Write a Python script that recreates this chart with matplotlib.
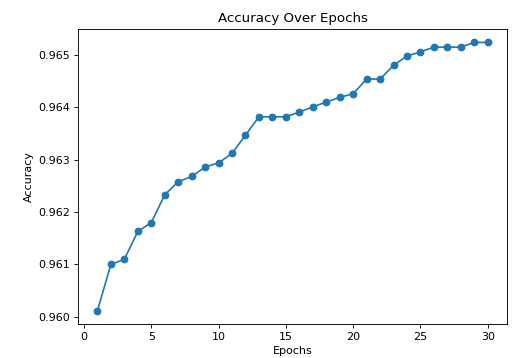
import matplotlib
matplotlib.use("Agg")
import matplotlib.pyplot as plt

epochs = list(range(1, 31))
accuracy = [0.96012, 0.96100, 0.96110, 0.96163, 0.96180, 0.96233, 0.96258, 0.96268,
            0.96286, 0.96294, 0.96312, 0.96347, 0.96382, 0.96382, 0.96382, 0.96391,
            0.96401, 0.96410, 0.96419, 0.96426, 0.96454, 0.96454, 0.96480, 0.96498,
            0.96506, 0.96515, 0.96515, 0.96515, 0.96524, 0.96524]

fig = plt.figure(figsize=(6.45, 4.475), dpi=80)
ax = fig.add_axes([0.151, 0.095, 0.832, 0.824])
ax.plot(epochs, accuracy, marker='o')
ax.set_title("Accuracy Over Epochs")
ax.set_xlabel("Epochs")
ax.set_ylabel("Accuracy")
fig.savefig("out.png", dpi=80)
